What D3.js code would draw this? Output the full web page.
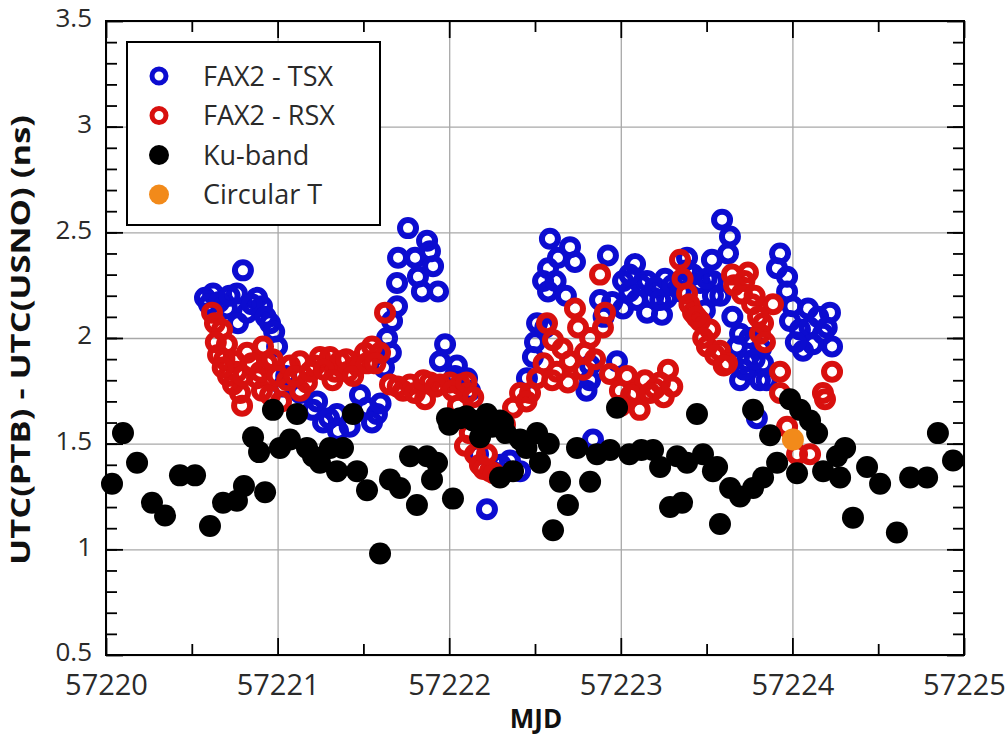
<!DOCTYPE html>
<html>
<head>
<meta charset="utf-8">
<script src="https://cdn.jsdelivr.net/npm/d3@7"></script>
<style>
body { margin: 0; background: #fff; }
</style>
</head>
<body>
<script>
var w = 1008;
var h = 744;

// FAX2 - TSX (blue open circles)
var tsxMjd = [57220.577, 57220.624, 57220.705, 57220.763, 57220.798, 57220.822, 57220.880, 57220.769, 57220.909, 57220.956,
  57220.997, 57221.032, 57221.131, 57221.206, 57221.265, 57221.352, 57221.346, 57221.521, 57221.579, 57221.480,
  57221.638, 57221.667, 57221.696, 57221.696, 57221.702, 57221.760, 57221.801, 57221.818, 57221.841, 57221.871,
  57221.888, 57221.906, 57221.935, 57221.976, 57221.946, 57222.045, 57222.104, 57222.121, 57222.034, 57222.168,
  57222.220, 57222.250, 57222.354, 57222.413, 57222.453, 57222.488, 57222.512, 57222.547, 57222.576, 57222.576,
  57222.587, 57222.634, 57222.704, 57222.733, 57222.879, 57222.821, 57222.821, 57222.838, 57222.978, 57222.925,
  57223.013, 57223.013, 57223.083, 57223.094, 57223.153, 57223.153, 57223.188, 57223.240, 57223.258, 57223.269,
  57223.386, 57223.386, 57223.462, 57223.490, 57223.537, 57223.531, 57223.537, 57223.590, 57223.636, 57223.625,
  57223.677, 57223.695, 57223.735, 57223.695, 57223.811, 57223.817, 57223.829, 57223.793, 57223.928, 57223.910,
  57223.969, 57223.969, 57223.986, 57224.044, 57224.062, 57224.091, 57224.178, 57224.219, 57224.231,
  57220.600, 57220.660, 57220.720, 57220.850, 57220.930, 57220.980, 57221.050, 57221.230, 57221.300, 57221.420,
  57221.550, 57221.600, 57221.620, 57221.660, 57222.300, 57222.500, 57222.560, 57222.620, 57222.680, 57222.800,
  57222.900, 57222.950, 57223.050, 57223.120, 57223.200, 57223.230, 57223.300, 57223.050, 57223.350, 57223.420,
  57223.500, 57223.580, 57223.650, 57223.720, 57223.780, 57223.850, 57223.750, 57224.000, 57224.100, 57224.150,
  57224.120, 57224.200, 57224.020];
var tsxVal = [2.19, 2.21, 2.14, 2.21, 2.32, 2.12, 2.19, 2.07, 2.15, 2.07,
  1.96, 1.77, 1.74, 1.66, 1.60, 1.56, 1.64, 1.67, 1.64, 1.73,
  2.00, 2.08, 2.15, 2.26, 2.38, 2.52, 2.38, 2.29, 2.22, 2.46,
  2.41, 2.34, 2.22, 1.97, 1.89, 1.87, 1.81, 1.75, 1.82, 1.45,
  1.19, 1.37, 1.42, 1.37, 1.81, 1.91, 2.07, 2.27, 2.22, 2.33,
  2.47, 2.38, 2.43, 2.36, 2.18, 1.87, 1.80, 1.52, 1.89, 2.39,
  2.27, 2.14, 2.35, 2.18, 2.27, 2.12, 2.19, 2.11, 2.28, 2.19,
  2.38, 2.32, 2.26, 2.13, 2.27, 2.37, 2.20, 2.56, 2.48, 2.40,
  1.96, 2.02, 1.89, 1.80, 1.80, 1.95, 1.88, 1.62, 2.40, 2.33,
  2.29, 2.22, 2.08, 2.04, 1.94, 2.14, 2.02, 2.12, 1.96,
  2.16, 2.17, 2.20, 2.16, 2.10, 2.03, 1.82, 1.70, 1.62, 1.58,
  1.60, 1.69, 1.86, 1.93, 1.40, 1.98, 2.05, 2.27, 2.20, 1.75,
  2.10, 2.17, 2.22, 2.25, 2.24, 2.18, 2.25, 2.30, 2.22, 2.30,
  2.28, 2.20, 2.10, 1.85, 1.90, 1.80, 2.00, 2.15, 2.05, 2.10,
  1.97, 2.05, 1.98];

// FAX2 - RSX (red open circles)
var rsxMjd = [57220.618, 57220.635, 57220.676, 57220.653, 57220.705, 57220.752, 57220.711, 57220.763, 57220.781, 57220.793,
  57220.822, 57220.880, 57220.915, 57220.938, 57220.909, 57220.956, 57221.055, 57221.072, 57221.131, 57221.171,
  57221.131, 57221.218, 57221.247, 57221.305, 57221.335, 57221.364, 57221.410, 57221.463, 57221.509, 57221.550,
  57221.597, 57221.626, 57221.655, 57221.731, 57221.772, 57221.888, 57221.946, 57222.005, 57222.063, 57222.104,
  57222.051, 57221.859, 57222.092, 57222.150, 57222.179, 57222.238, 57222.325, 57222.372, 57222.413, 57222.471,
  57222.512, 57222.570, 57222.605, 57222.628, 57222.692, 57222.704, 57222.733, 57222.751, 57222.791, 57222.821,
  57222.896, 57222.908, 57222.879, 57222.937, 57222.995, 57223.036, 57223.083, 57223.141, 57223.199, 57223.228,
  57223.275, 57223.345, 57223.386, 57223.421, 57223.462, 57223.520, 57223.502, 57223.578, 57223.619, 57223.648,
  57223.741, 57223.706, 57223.765, 57223.887, 57223.829, 57223.811, 57223.928, 57224.231, 57223.928, 57224.178,
  57224.190, 57223.969, 57224.027, 57224.103,
  57220.640, 57220.690, 57220.740, 57220.800, 57220.850, 57220.900, 57220.970, 57220.680, 57221.000, 57221.100,
  57221.190, 57221.270, 57221.320, 57221.400, 57221.440, 57221.520, 57221.570, 57221.020, 57221.700, 57221.800,
  57221.850, 57221.920, 57222.020, 57222.100, 57222.140, 57222.120, 57222.200, 57222.260, 57222.220, 57222.450,
  57222.550, 57222.600, 57222.660, 57222.780, 57222.850, 57223.000, 57223.060, 57223.110, 57223.170, 57223.250,
  57223.300, 57223.360, 57223.400, 57223.440, 57223.480, 57223.550, 57223.600, 57223.660, 57223.720, 57223.780,
  57223.800, 57223.840];
var rsxVal = [2.12, 2.07, 2.04, 1.92, 1.97, 1.89, 1.82, 1.84, 1.74, 1.68,
  1.93, 1.81, 1.96, 1.88, 1.75, 1.73, 1.80, 1.87, 1.89, 1.79,
  1.75, 1.87, 1.91, 1.91, 1.84, 1.89, 1.84, 1.87, 1.93, 1.96,
  1.93, 2.12, 1.78, 1.75, 1.78, 1.79, 1.78, 1.79, 1.78, 1.74,
  1.68, 1.71, 1.49, 1.45, 1.40, 1.37, 1.59, 1.67, 1.74, 1.74,
  1.81, 2.07, 1.99, 1.84, 1.79, 1.89, 2.14, 2.05, 1.93, 2.00,
  2.05, 2.12, 2.30, 1.83, 1.75, 1.82, 1.74, 1.80, 1.76, 1.79,
  1.85, 2.37, 2.21, 2.12, 2.08, 2.04, 1.96, 1.94, 1.88, 2.30,
  2.31, 2.21, 2.16, 2.16, 2.07, 2.02, 1.84, 1.84, 1.74, 1.74,
  1.71, 1.58, 1.45, 1.45,
  1.98, 1.90, 1.78, 1.82, 1.88, 1.84, 1.90, 1.86, 1.82, 1.82,
  1.84, 1.85, 1.80, 1.90, 1.82, 1.88, 1.88, 1.70, 1.77, 1.74,
  1.80, 1.77, 1.75, 1.79, 1.72, 1.55, 1.38, 1.36, 1.45, 1.70,
  1.88, 1.80, 1.95, 1.85, 1.90, 1.68, 1.73, 1.66, 1.74, 1.72,
  1.77, 2.28, 2.16, 2.10, 2.00, 1.92, 1.87, 2.25, 2.27, 2.20,
  2.10, 1.98];

// Ku-band (black filled)
var kuMjd = [57220.035, 57220.099, 57220.181, 57220.268, 57220.344, 57220.431, 57220.519, 57220.606, 57220.682, 57220.763,
  57220.804, 57220.927, 57220.857, 57220.892, 57221.014, 57220.973, 57221.113, 57221.206, 57221.072, 57221.171,
  57221.247, 57221.346, 57221.463, 57221.521, 57221.655, 57221.713, 57221.812, 57221.597, 57221.772, 57221.871,
  57221.929, 57221.900, 57222.022, 57221.987, 57222.063, 57222.139, 57222.220, 57222.296, 57222.180, 57222.296,
  57222.372, 57221.439, 57221.305, 57221.381, 57222.978, 57223.444, 57222.314, 57222.413, 57222.512, 57222.529,
  57222.646, 57222.692, 57222.605, 57222.821, 57222.745, 57222.861, 57222.937, 57223.188, 57223.229, 57223.328,
  57223.386, 57223.479, 57223.537, 57223.287, 57223.357, 57223.578, 57223.771, 57223.870, 57223.561, 57223.637,
  57223.695, 57223.771, 57223.829, 57223.911, 57223.986, 57224.045, 57224.103, 57224.144, 57224.027, 57224.179,
  57224.278, 57224.307, 57224.260, 57224.435, 57224.511, 57224.686, 57224.785, 57224.353, 57224.609, 57224.848,
  57224.936, 57222.000, 57222.100, 57222.250, 57222.330, 57222.450, 57222.580, 57223.050, 57223.120];
var kuVal = [1.31, 1.55, 1.41, 1.22, 1.16, 1.35, 1.35, 1.11, 1.22, 1.23,
  1.30, 1.27, 1.53, 1.46, 1.48, 1.66, 1.64, 1.44, 1.52, 1.48,
  1.41, 1.37, 1.37, 1.28, 1.33, 1.29, 1.21, 0.98, 1.44, 1.44,
  1.41, 1.33, 1.24, 1.62, 1.62, 1.61, 1.64, 1.61, 1.53, 1.34,
  1.37, 1.64, 1.48, 1.48, 1.67, 1.64, 1.60, 1.52, 1.55, 1.41,
  1.32, 1.21, 1.09, 1.32, 1.48, 1.45, 1.47, 1.47, 1.39, 1.44,
  1.41, 1.45, 1.37, 1.20, 1.22, 1.12, 1.66, 1.54, 1.39, 1.29,
  1.25, 1.29, 1.34, 1.41, 1.71, 1.66, 1.61, 1.55, 1.36, 1.37,
  1.34, 1.48, 1.44, 1.39, 1.31, 1.34, 1.34, 1.15, 1.08, 1.55,
  1.42, 1.59, 1.63, 1.58, 1.55, 1.48, 1.50, 1.45, 1.47];

// Circular T (orange filled)
var circMjd = [57224.003];
var circVal = [1.52];

var xTicks = [57220, 57221, 57222, 57223, 57224, 57225];
var xMinor = [57220.5, 57221.5, 57222.5, 57223.5, 57224.5];
var yTicks = [0.5, 1, 1.5, 2, 2.5, 3, 3.5];
var legendNames = ["FAX2 - TSX", "FAX2 - RSX", "Ku-band", "Circular T"];

var pLeft = 106, pRight = 964, pTop = 21, pBottom = 655;
var blue = "#0c0cd0", red = "#d8100e", orange = "#f28a1a";

function zip(a, b) {
	var out = [];
	for (var i = 0; i < a.length; i++) out.push([a[i], b[i]]);
	return out;
}

var x = d3.scaleLinear().domain([57220, 57225]).range([pLeft, pRight]);
var y = d3.scaleLinear().domain([0.5, 3.5]).range([pBottom, pTop]);

var svg = d3.select("body").append("svg")
	.attr("width", w)
	.attr("height", h)
	.style("font-family", "'Open Sans', sans-serif");

// grid
svg.append("g")
	.attr("transform", "translate(0," + pBottom + ")")
	.call(d3.axisBottom(x).tickValues(xTicks).tickSize(-(pBottom - pTop)).tickFormat(""))
	.call(function(g) { g.select(".domain").remove(); })
	.selectAll("line").attr("stroke", "#a8a8a8").attr("stroke-width", 1.3);
svg.append("g")
	.attr("transform", "translate(" + pLeft + ",0)")
	.call(d3.axisLeft(y).tickValues(yTicks).tickSize(-(pRight - pLeft)).tickFormat(""))
	.call(function(g) { g.select(".domain").remove(); })
	.selectAll("line").attr("stroke", "#a8a8a8").attr("stroke-width", 1.3);

// minor y ticks every 0.1
var yMinor = d3.range(6, 35).map(function(d) { return d / 10; });

function drawTicks(axis, tr, vals, len) {
	svg.append("g")
		.attr("transform", tr)
		.call(axis.tickValues(vals).tickSize(-len).tickFormat(""))
		.call(function(g) { g.select(".domain").remove(); })
		.selectAll("line").attr("stroke", "#000").attr("stroke-width", 1.8);
}
drawTicks(d3.axisBottom(x), "translate(0," + pBottom + ")", xTicks, 17);
drawTicks(d3.axisBottom(x), "translate(0," + pBottom + ")", xMinor, 11);
drawTicks(d3.axisTop(x), "translate(0," + pTop + ")", xTicks, 17);
drawTicks(d3.axisTop(x), "translate(0," + pTop + ")", xMinor, 11);
drawTicks(d3.axisLeft(y), "translate(" + pLeft + ",0)", yTicks, 17);
drawTicks(d3.axisLeft(y), "translate(" + pLeft + ",0)", yMinor, 11);
drawTicks(d3.axisRight(y), "translate(" + pRight + ",0)", yTicks, 17);
drawTicks(d3.axisRight(y), "translate(" + pRight + ",0)", yMinor, 11);

// tick labels
svg.append("g")
	.attr("transform", "translate(0," + pBottom + ")")
	.call(d3.axisBottom(x).tickValues(xTicks).tickSize(0).tickPadding(19).tickFormat(d3.format("d")))
	.call(function(g) { g.select(".domain").remove(); })
	.selectAll("text")
	.attr("font-size", "29px")
	.attr("font-family", "'Open Sans', sans-serif")
	.attr("fill", "#2a2a2a");
svg.append("g")
	.attr("transform", "translate(" + pLeft + ",0)")
	.call(d3.axisLeft(y).tickValues(yTicks).tickSize(0).tickPadding(14).tickFormat(d3.format("")))
	.call(function(g) { g.select(".domain").remove(); })
	.selectAll("text")
	.attr("dy", "0.22em")
	.attr("font-size", "26px")
	.attr("font-family", "'Open Sans', sans-serif")
	.attr("fill", "#2a2a2a");

// data
svg.append("g").selectAll("circle")
	.data(zip(tsxMjd, tsxVal)).enter().append("circle")
	.attr("cx", function(d) { return x(d[0]); })
	.attr("cy", function(d) { return y(d[1]); })
	.attr("r", 8)
	.attr("fill", "none")
	.attr("stroke", blue)
	.attr("stroke-width", 6);
svg.append("g").selectAll("circle")
	.data(zip(rsxMjd, rsxVal)).enter().append("circle")
	.attr("cx", function(d) { return x(d[0]); })
	.attr("cy", function(d) { return y(d[1]); })
	.attr("r", 8)
	.attr("fill", "none")
	.attr("stroke", red)
	.attr("stroke-width", 6);
svg.append("g").selectAll("circle")
	.data(zip(kuMjd, kuVal)).enter().append("circle")
	.attr("cx", function(d) { return x(d[0]); })
	.attr("cy", function(d) { return y(d[1]); })
	.attr("r", 11)
	.attr("fill", "#000");
svg.append("g").selectAll("circle")
	.data(zip(circMjd, circVal)).enter().append("circle")
	.attr("cx", function(d) { return x(d[0]); })
	.attr("cy", function(d) { return y(d[1]); })
	.attr("r", 11)
	.attr("fill", orange);

// frame
svg.append("rect")
	.attr("x", pLeft).attr("y", pTop)
	.attr("width", pRight - pLeft).attr("height", pBottom - pTop)
	.attr("fill", "none").attr("stroke", "#000").attr("stroke-width", 2);

// legend
var leg = svg.append("g");
leg.append("rect")
	.attr("x", 127).attr("y", 42).attr("width", 253).attr("height", 183)
	.attr("fill", "#fff").attr("stroke", "#000").attr("stroke-width", 2);
var rows = leg.selectAll("g.row").data(legendNames).enter().append("g")
	.attr("class", "row")
	.attr("transform", function(d, i) { return "translate(0," + (76 + i * 39.5) + ")"; });
rows.append("circle")
	.attr("cx", 159).attr("cy", 0)
	.attr("r", function(d, i) { return i < 2 ? 7 : 10; })
	.attr("fill", function(d, i) { return i < 2 ? "none" : (i == 2 ? "#000" : orange); })
	.attr("stroke", function(d, i) { return i == 0 ? blue : (i == 1 ? red : "none"); })
	.attr("stroke-width", 5);
rows.append("text")
	.attr("x", 203).attr("y", 0).attr("dy", "0.36em")
	.attr("font-size", "27px")
	.attr("fill", "#2a2a2a")
	.text(function(d) { return d; });

// axis titles
svg.append("text")
	.attr("x", 536).attr("y", 728)
	.attr("text-anchor", "middle")
	.attr("font-size", "26px").attr("font-weight", "bold")
	.attr("fill", "#111")
	.text("MJD");
svg.append("text")
	.attr("transform", "translate(30,340) rotate(-90)")
	.attr("text-anchor", "middle")
	.attr("font-size", "26px").attr("font-weight", "bold")
	.attr("fill", "#111")
	.attr("textLength", 450).attr("lengthAdjust", "spacingAndGlyphs")
	.text("UTC(PTB) - UTC(USNO) (ns)");
</script>
</body>
</html>
